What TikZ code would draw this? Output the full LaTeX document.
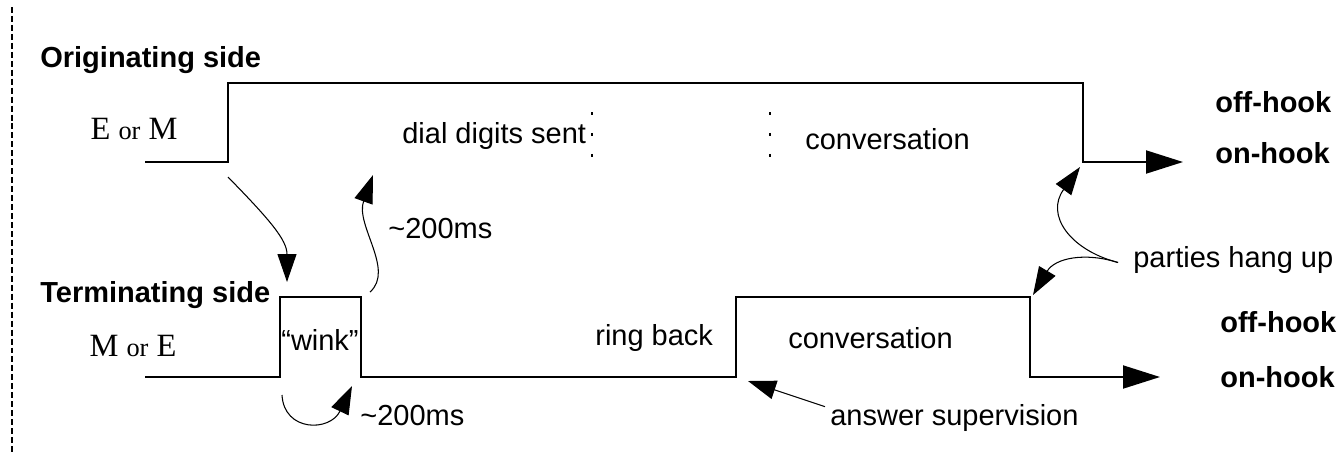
\documentclass[tikz,border=0pt]{standalone}
\usepackage{fontspec}
\setmainfont{Liberation Sans}
\newfontfamily\timesfont{Liberation Serif}
\usetikzlibrary{arrows.meta}
\tikzstyle{signal}=[draw,line width=1.1pt,-{Triangle[length=0.74cm,width=0.46cm]}]
\tikzstyle{cue}=[draw,line width=0.6pt,-{Triangle[length=0.56cm,width=0.38cm]}]
\tikzstyle{marker}=[draw,line width=1.4pt,dash pattern=on 1.7pt off 10.2pt]
\tikzstyle{txt}=[inner sep=0pt,anchor=base west,font=\fontsize{16.5}{18}\selectfont]
\tikzstyle{boldtxt}=[txt,font=\fontsize{16.5}{18}\selectfont\bfseries]
\tikzstyle{lead}=[inner sep=0pt,anchor=base,font=\timesfont\fontsize{18.5}{20}\selectfont]

\begin{document}
\begin{tikzpicture}[x=0.02cm,y=-0.02cm]
    \useasboundingbox (0,0) rectangle (1344,454);
    \draw[line width=1.1pt,dash pattern=on 3.4pt off 1.7pt] (12,7) -- (12,454);

    % originating side
    \node[boldtxt] (orig) at (40,67) {Originating side};
    \node[lead] (em) at (134,139) {E {\fontsize{15}{16}\selectfont or} M};
    \foreach \px/\py/\name in {145/162/o0, 228/162/o1, 228/83/o2, 1083/83/o3, 1083/162/o4, 1183/162/o5}
        \coordinate (\name) at (\px,\py);
    \path[signal] (o0) -- (o1) -- (o2) -- (o3) -- (o4) -- (o5);
    \node[txt] (dial) at (402,143) {dial digits sent};
    \node[txt] (convtop) at (805,149) {conversation};
    \draw[marker] (592,112) -- (592,158);
    \draw[marker] (770,112) -- (770,158);

    % terminating side
    \node[boldtxt] (term) at (40,302) {Terminating side};
    \node[lead] (me) at (133,356) {M {\fontsize{15}{16}\selectfont or} E};
    \foreach \px/\py/\name in {145/377/t0, 280/377/t1, 280/297/t2, 361/297/t3, 361/377/t4, 736/377/t5, 736/297/t6, 1030/297/t7, 1030/377/t8, 1160/377/t9}
        \coordinate (\name) at (\px,\py);
    \path[signal] (t0) -- (t1) -- (t2) -- (t3) -- (t4) -- (t5) -- (t6) -- (t7) -- (t8) -- (t9);
    \node[txt,anchor=base] (wink) at (320,350) {``wink''};
    \node[txt] (ring) at (595,345) {ring back};
    \node[txt] (convbot) at (788,348) {conversation};

    % hook states
    \foreach \px/\py/\name/\word in {1215/112/offtop/off-hook, 1215/163/ontop/on-hook, 1220/332/offbot/off-hook, 1220/387/onbot/on-hook}
        \node[boldtxt] (\name) at (\px,\py) {\word};

    % timing notes
    \node[txt] (delaytop) at (388,238) {\textasciitilde200ms};
    \node[txt] (delaybot) at (360,425) {\textasciitilde200ms};
    \node[txt] (ans) at (830,425) {answer supervision};
    \node[txt] (hang) at (1133,267) {parties hang up};

    \coordinate (w1) at (228,177);
    \coordinate (w2) at (287,282);
    \coordinate (w3) at (370,292);
    \coordinate (w4) at (373,175);
    \coordinate (w5) at (282,395);
    \coordinate (w6) at (352,386);
    \coordinate (as1) at (748,381);
    \coordinate (hu1) at (1080,167);
    \coordinate (hu2) at (1033,295);

    \path[cue] (w1) .. controls (270,220) and (287,240) .. (w2);
    \path[cue] (w3) .. controls (395,270) and (355,225) .. (w4);
    \path[cue] (w5) .. controls (284,432) and (330,432) .. (w6);
    \path[cue] ([shift={(-5,3)}]ans.north west) -- (as1);
    \path[cue] ([shift={(-15,3)}]hang.west) .. controls (1070,250) and (1045,215) .. (hu1);
    \path[cue] ([shift={(-15,3)}]hang.west) .. controls (1085,252) and (1055,258) .. (hu2);
\end{tikzpicture}
\end{document}
